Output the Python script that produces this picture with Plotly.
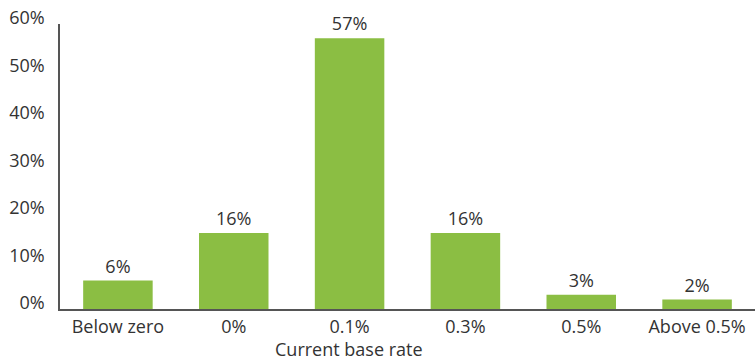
import plotly.graph_objects as go

categories = ["Below zero", "0%", "0.1%", "0.3%", "0.5%", "Above 0.5%"]
shares = [6, 16, 57, 16, 3, 2]
y_ticks = [0, 10, 20, 30, 40, 50, 60]
y_tick_labels = [f"{v}%" for v in y_ticks]

bar_color = "#8BBE43"
text_color = "#333333"
axis_color = "#555555"
font_family = "Open Sans"
font_size = 18

fig = go.Figure(
    go.Bar(
        x=categories,
        y=shares,
        marker=dict(color=bar_color, line=dict(width=0)),
        text=[f"{v}%" for v in shares],
        textposition="outside",
        textfont=dict(family=font_family, size=font_size, color=text_color),
        cliponaxis=False,
        width=0.6,
    )
)

fig.update_layout(
    width=755,
    height=360,
    margin=dict(l=60, r=0, t=24, b=51),
    paper_bgcolor="white",
    plot_bgcolor="white",
    font=dict(family=font_family, size=font_size, color=text_color),
    showlegend=False,
    xaxis=dict(
        showline=True,
        linecolor=axis_color,
        linewidth=1.5,
        showgrid=False,
        ticks="",
        tickfont=dict(size=font_size, color=text_color),
        ticklabelstandoff=1,
    ),
    yaxis=dict(
        range=[0, 60],
        tickvals=y_ticks,
        ticktext=y_tick_labels,
        showline=True,
        linecolor=axis_color,
        linewidth=1.5,
        showgrid=False,
        zeroline=False,
        ticks="",
        tickfont=dict(size=font_size, color=text_color),
        ticklabelstandoff=10,
        ticklabelshift=-6,
    ),
    annotations=[
        dict(
            text="Current base rate",
            xref="paper",
            yref="paper",
            x=(348.5 - 60) / 695,
            y=0,
            yshift=-40,
            xanchor="center",
            yanchor="middle",
            showarrow=False,
            font=dict(family=font_family, size=font_size, color=text_color),
        )
    ],
)

fig.write_html("out.html")
